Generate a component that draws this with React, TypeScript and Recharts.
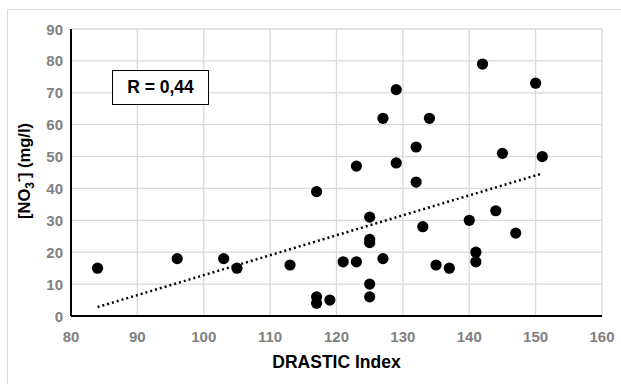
import React from 'react';
import { ScatterChart, Scatter, XAxis, YAxis, CartesianGrid, ReferenceLine } from 'recharts';

// DRASTIC index vs nitrate concentration
const drasticIndex = [
  84, 96, 103, 105, 113, 117, 117, 117, 119, 121, 123, 123, 125, 125, 125, 125, 125, 127,
  127, 129, 129, 132, 132, 133, 134, 135, 137, 140, 141, 141, 142, 144, 145, 147, 150, 151,
];
const nitrate = [
  15, 18, 18, 15, 16, 39, 6, 4, 5, 17, 17, 47, 31, 24, 23, 10, 6, 62,
  18, 71, 48, 53, 42, 28, 62, 16, 15, 30, 20, 17, 79, 33, 51, 26, 73, 50,
];
// linear trend as drawn in the figure (ends at first / last point)
const trendX = [84, 151];
const trendY = [2.8, 44.7];
const xTicks = [80, 90, 100, 110, 120, 130, 140, 150, 160];
const yTicks = [0, 10, 20, 30, 40, 50, 60, 70, 80, 90];
const rLabel = 'R = 0,44';

const points = drasticIndex.map((x, i) => ({ x, y: nitrate[i] }));

const FONT = '"Liberation Sans", Arial, sans-serif';

const XTick = (props: any) => (
  <text
    x={props.x}
    y={props.y}
    dy={11}
    textAnchor="middle"
    fontFamily={FONT}
    fontWeight="bold"
    fontSize={15}
    fill="#808080"
  >
    {props.payload.value}
  </text>
);

const YTick = (props: any) => (
  <text
    x={props.x}
    y={props.y}
    dy={5.5}
    textAnchor="end"
    fontFamily={FONT}
    fontWeight="bold"
    fontSize={15}
    fill="#808080"
  >
    {props.payload.value}
  </text>
);

const Dot = (props: any) => <circle cx={props.cx} cy={props.cy} r={5.6} fill="#000" />;

const YLabel = () => (
  <text
    x={30}
    y={171}
    transform="rotate(-90 30 171)"
    textAnchor="middle"
    fontFamily={FONT}
    fontWeight="bold"
    fontSize={16.5}
    fill="#000"
  >
    [NO<tspan dy={4} fontSize={12}>3</tspan>
    <tspan dy={-11} fontSize={12}>-</tspan>
    <tspan dy={7}>] (mg/l)</tspan>
  </text>
);

const XLabel = () => (
  <text x={336.5} y={368} textAnchor="middle" fontFamily={FONT} fontWeight="bold" fontSize={17.5} fill="#000">
    DRASTIC Index
  </text>
);

export default function App() {
  return (
    <div style={{ position: 'absolute', left: 0, top: 0, width: 621, height: 384, overflow: 'hidden', background: '#fff' }}>
      <div
        style={{
          position: 'absolute',
          left: 7,
          top: 9,
          width: 640,
          height: 400,
          border: '1px solid #d9d9d9',
        }}
      />
      <ScatterChart width={621} height={384} margin={{ top: 29, right: 19, bottom: 8, left: 0 }}>
        <CartesianGrid stroke="#d9d9d9" strokeWidth={1.3} />
        <XAxis
          type="number"
          dataKey="x"
          domain={[80, 160]}
          ticks={xTicks}
          interval={0}
          height={60}
          tick={<XTick />}
          tickLine={false}
          tickMargin={9}
          axisLine={{ stroke: '#000', strokeWidth: 2 }}
          label={{ content: () => <XLabel /> }}
        />
        <YAxis
          type="number"
          dataKey="y"
          domain={[0, 90]}
          ticks={yTicks}
          interval={0}
          width={71}
          tick={<YTick />}
          tickLine={false}
          axisLine={{ stroke: '#000', strokeWidth: 2 }}
          label={{ content: () => <YLabel /> }}
        />
        <ReferenceLine
          segment={[
            { x: trendX[0], y: trendY[0] },
            { x: trendX[1], y: trendY[1] },
          ]}
          stroke="#000"
          strokeWidth={2.5}
          strokeDasharray="2 3"
        />
        <Scatter data={points} fill="#000" shape={<Dot />} isAnimationActive={false} />
      </ScatterChart>
      <div
        style={{
          position: 'absolute',
          left: 112,
          top: 70,
          width: 97,
          height: 35,
          boxSizing: 'border-box',
          border: '1.5px solid #000',
          display: 'flex',
          alignItems: 'center',
          justifyContent: 'center',
          fontFamily: FONT,
          fontWeight: 700,
          fontSize: 17.5,
          background: '#fff',
        }}
      >
        {rLabel}
      </div>
    </div>
  );
}
